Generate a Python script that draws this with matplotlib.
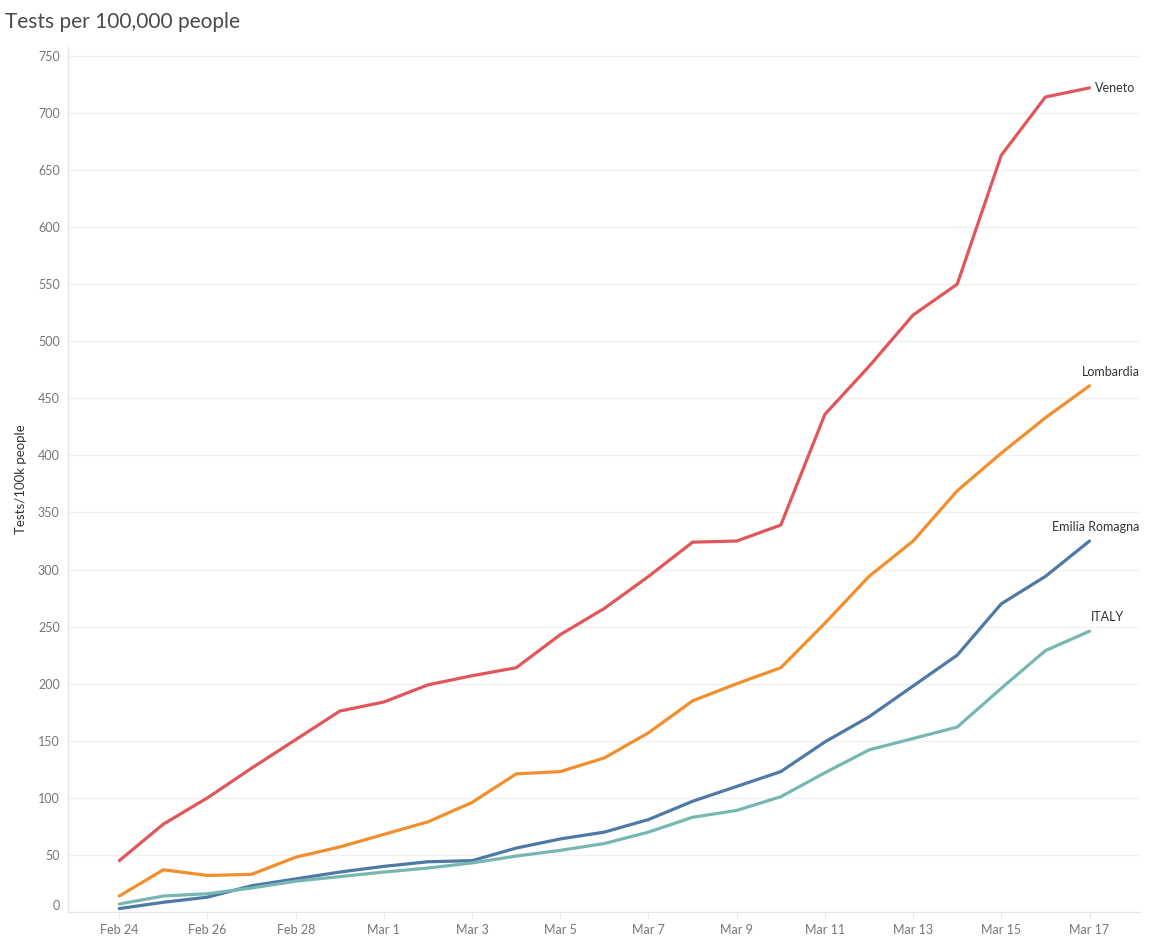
import matplotlib
matplotlib.use('Agg')
import matplotlib.pyplot as plt
import pandas as pd

plt.rcParams['font.family'] = ['Lato', 'DejaVu Sans']

# one value per day, Feb 24 .. Mar 17 2020
dates = pd.date_range('2020-02-24', '2020-03-17', freq='D')

veneto = [45, 77, 100, 126, 151, 176, 184, 199, 207, 214, 243, 266, 294, 324,
          325, 339, 436, 478, 523, 550, 663, 714, 722]
lombardia = [14, 37, 32, 33, 48, 57, 68, 79, 96, 121, 123, 135, 157, 185,
             200, 214, 253, 294, 325, 369, 402, 433, 461]
emilia = [3, 8.5, 13, 23, 29, 35, 40, 44, 45, 56, 64, 70, 81, 97,
          110, 123, 149, 171, 198, 225, 270, 294, 325]
italy = [7, 14, 16, 21, 27, 31, 35, 38.5, 43, 49, 54, 60, 70, 83,
         89, 101, 122, 142, 152, 162, 196, 229, 246]

series = [
    ('Veneto', veneto, '#e15759'),
    ('Lombardia', lombardia, '#f28e2b'),
    ('Emilia Romagna', emilia, '#4e79a7'),
    ('ITALY', italy, '#76b7b2'),
]
# label offsets in pixels from the last point (dx, dy, ha)
label_pos = {
    'Veneto': (5, 0, 'left'),
    'Lombardia': (50, 14, 'right'),
    'Emilia Romagna': (50, 14, 'right'),
    'ITALY': (1, 14, 'left'),
}

fig = plt.figure(figsize=(11.49, 9.42), dpi=100)
ax = fig.add_axes([68/1149, 1 - 912/942, (1140-68)/1149, (912-47)/942])

for name, vals, col in series:
    ax.plot(dates, vals, color=col, lw=2.3, solid_capstyle='round', zorder=3)
    dx, dy, ha = label_pos[name]
    ax.annotate(name, (dates[-1], vals[-1]), xytext=(dx*0.72, dy*0.72),
                textcoords='offset points', ha=ha, va='center',
                fontsize=9, color='#333333')

ax.set_xlim(dates[0] - pd.Timedelta(days=1.163), dates[0] + pd.Timedelta(days=23.145))
ax.set_ylim(0, 757.8)

ax.set_yticks(range(0, 751, 50))
ax.tick_params(axis='y', length=0, pad=6, labelsize=9, labelcolor='#777777')
ax.yaxis.get_ticklabels()[0].set_va('bottom')

xt = dates[::2]
ax.set_xticks(xt)
ax.set_xticklabels([f'{d:%b} {d.day}' for d in xt])
ax.tick_params(axis='x', length=4, width=0.8, color='#e6e6e6', pad=5,
               labelsize=9, labelcolor='#777777')

ax.grid(axis='y', color='#f0f0f0', lw=0.9)
ax.set_axisbelow(True)
for s in ['top', 'right']:
    ax.spines[s].set_visible(False)
for s in ['left', 'bottom']:
    ax.spines[s].set_color('#e6e6e6')
    ax.spines[s].set_linewidth(0.9)

ax.set_ylabel('Tests/100k people', fontsize=9.5, color='#333333', labelpad=8)

fig.text(5/1149, 1 - 22/942, 'Tests per 100,000 people', fontsize=15,
         color='#4a4a4a', va='center', ha='left')

fig.savefig('out.png', dpi=100)
